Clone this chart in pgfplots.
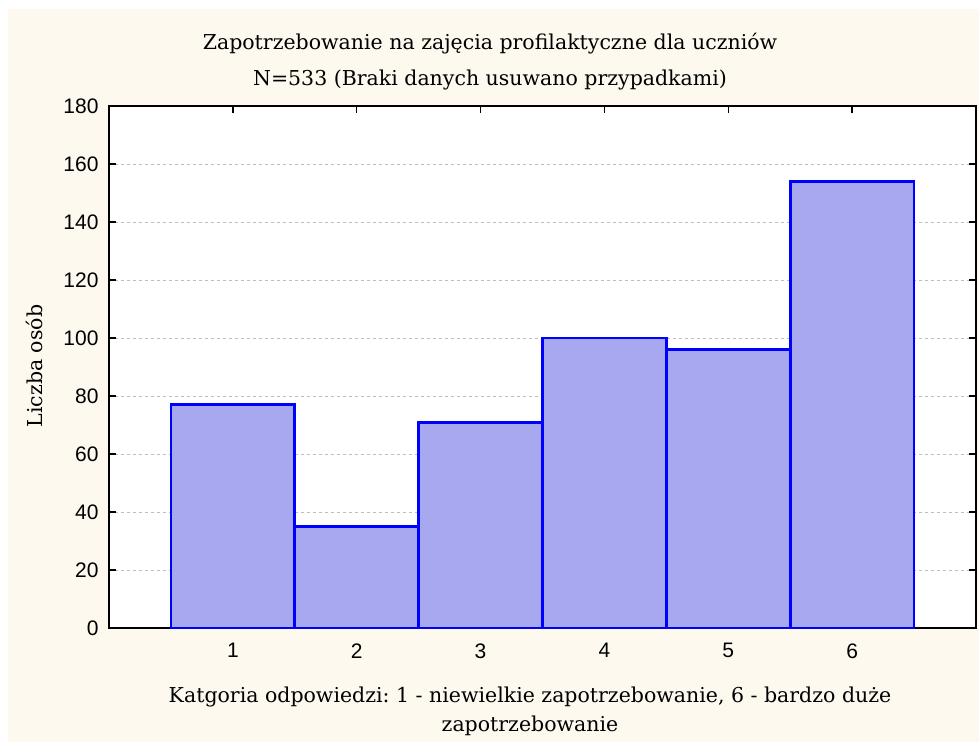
\documentclass[border=0pt]{standalone}
\usepackage{pgfplots}
\pgfplotsset{compat=1.18}
\usepackage{fontspec}
\setmainfont{DejaVu Serif}
\newfontfamily\ticksf{Liberation Sans}
\definecolor{cream}{RGB}{253,249,239}
\definecolor{barfill}{RGB}{168,168,240}
\definecolor{gridgray}{RGB}{190,190,190}
\begin{document}
\begin{tikzpicture}[x=1pt,y=1pt]
\fill[white] (0,0) rectangle (979,742);
\fill[cream] (8,0) rectangle (979,733);
\node[anchor=base,font=\fontsize{20.5}{24}\selectfont] at (490,692) {Zapotrzebowanie na zajęcia profilaktyczne dla uczniów};
\node[anchor=base,font=\fontsize{20.5}{24}\selectfont] at (490,656) {N=533 (Braki danych usuwano przypadkami)};
\node[anchor=base,font=\fontsize{20.5}{24}\selectfont] at (530,40) {Katgoria odpowiedzi:\ 1 - niewielkie zapotrzebowanie, 6 - bardzo duże};
\node[anchor=base,font=\fontsize{20.5}{24}\selectfont] at (530,11) {zapotrzebowanie};
\node[anchor=base,rotate=90,font=\fontsize{20.5}{24}\selectfont] at (42,376) {Liczba osób};
\begin{axis}[
  at={(109pt,114pt)}, anchor=south west,
  scale only axis, width=867pt, height=522pt,
  xmin=0, xmax=7, ymin=0, ymax=180,
  xtick={1,2,3,4,5,6}, ytick={0,20,...,180},
  axis background/.style={fill=white},
  axis line style={black, line width=1.6pt},
  major tick length=7pt,
  tick style={black, line width=1.4pt},
  ymajorgrids, grid style={gridgray, dashed, line width=0.7pt},
  tick label style={font=\ticksf\fontsize{21}{24}\selectfont},
  /pgf/number format/assume math mode=true,
  yticklabel style={xshift=-7pt},
  xticklabel style={yshift=-12pt},
]
\addplot[ybar, bar width=1, fill=barfill, draw={rgb,255:red,0;green,0;blue,255}, line width=2.8pt]
  coordinates {(1,77) (2,35) (3,71) (4,100) (5,96) (6,154)};
\end{axis}
\end{tikzpicture}
\end{document}
